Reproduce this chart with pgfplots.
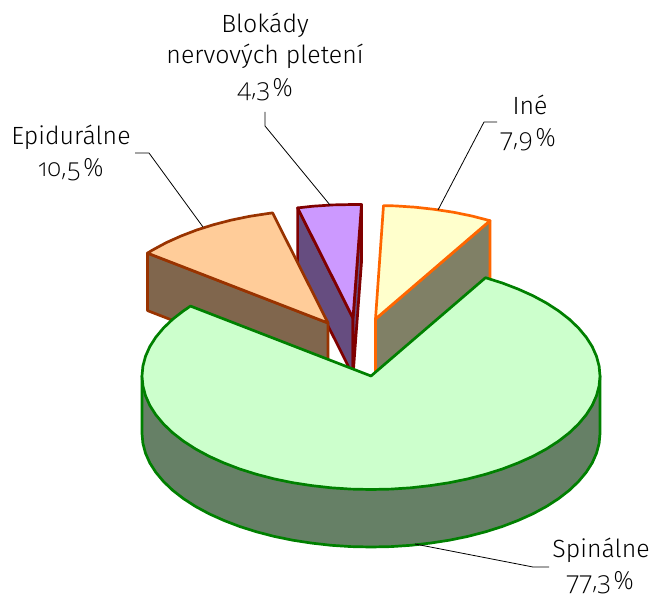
\documentclass[border=0pt]{standalone}
\usepackage{fontspec}
\setmainfont{Fira Sans Light}
\newfontfamily\numf[Numbers=OldStyle]{Open Sans Light}
\usepackage{pgfplots}
\pgfplotsset{compat=1.18}

\definecolor{spinTop}{HTML}{CCFFCC}
\definecolor{spinSide}{HTML}{668066}
\definecolor{spinLine}{HTML}{008000}
\definecolor{epiTop}{HTML}{FFCC99}
\definecolor{epiSide}{HTML}{80664D}
\definecolor{epiLine}{HTML}{993300}
\definecolor{blokTop}{HTML}{CC99FF}
\definecolor{blokSide}{HTML}{664D80}
\definecolor{blokLine}{HTML}{800000}
\definecolor{ineTop}{HTML}{FFFFCC}
\definecolor{ineSide}{HTML}{808066}
\definecolor{ineLine}{HTML}{FF6600}

\newcommand{\lab}[3]{\node[anchor=base,inner sep=0pt,font=\fontsize{25}{30}\selectfont] at (axis cs:#1,#2) {#3};}
\newcommand{\num}[3]{\node[anchor=base,inner sep=0pt,font=\fontsize{25}{30}\selectfont\numf] at (axis cs:#1,#2) {#3\hspace{0.12em}\%};}

\begin{document}
\begin{tikzpicture}
\begin{axis}[
  scale only axis,
  width=653bp,
  height=596bp,
  xmin=0, xmax=653,
  ymin=0, ymax=596,
  y dir=reverse,
  ticks=none,
  axis line style={draw=none},
  clip=false,
  every axis plot/.append style={line width=2.7bp, line join=round}
]
% Blokady: side faces, then top
\addplot[draw=blokLine, fill=blokSide] coordinates {(297.6,207.9) (297.6,265.4) (353,375.5) (353,318)} -- cycle;
\addplot[draw=blokLine, fill=blokSide] coordinates {(361.5,204.6) (361.5,262) (353,375.5) (353,318)} -- cycle;
\addplot[draw=blokLine, fill=blokTop] coordinates {(353,318) (297.6,207.9) (313.2,206.2) (333,204.9) (353,204.5) (361.5,204.6)} -- cycle;

% Epiduralne
\addplot[draw=epiLine, fill=epiSide] coordinates {(147.5,253.1) (147.5,310.6) (328,380.5) (328,323)} -- cycle;
\addplot[draw=epiLine, fill=epiTop] coordinates {(328,323) (147.5,253.1) (152.6,250.0) (166.1,242.7) (180.8,236.1) (196.7,230.0) (213.5,224.7) (231.2,220.1) (249.7,216.3) (268.7,213.4) (272.6,212.9)} -- cycle;

% Ine
\addplot[draw=ineLine, fill=ineSide] coordinates {(375.5,319) (490,220.7) (490,278.2) (375.5,376.5)} -- cycle;
\addplot[draw=ineLine, fill=ineTop] coordinates {(375.5,319) (383.5,205.6) (395.5,205.9) (415.3,207.2) (434.8,209.4) (453.8,212.3) (472.3,216.1) (490,220.7)} -- cycle;

% Spinalne: rim, then top
\addplot[draw=spinLine, fill=spinSide] coordinates {
  (600,376) (600,433.5) (599.1,443.4) (596.5,453.2) (592.2,462.9) (586.2,472.3) (578.5,481.5)
  (569.3,490.3) (558.6,498.6) (546.4,506.5) (532.9,513.8) (518.2,520.4) (502.3,526.5)
  (485.5,531.8) (467.8,536.4) (449.3,540.2) (430.3,543.1) (410.8,545.3) (391.0,546.6)
  (371,547.0) (351.0,546.6) (331.2,545.3) (311.7,543.1) (292.7,540.2) (274.2,536.4)
  (256.5,531.8) (239.7,526.5) (223.8,520.4) (209.1,513.8) (195.6,506.5) (183.4,498.6)
  (172.7,490.3) (163.5,481.5) (155.8,472.3) (149.8,462.9) (145.5,453.2) (142.9,443.4)
  (142,433.5) (142,376)} -- cycle;
\addplot[draw=spinLine, fill=spinTop] coordinates {
  (371,376) (485.5,277.7) (502.3,283.0) (518.2,289.1) (532.9,295.7) (546.4,303.0) (558.6,310.9)
  (569.3,319.2) (578.5,328.0) (586.2,337.2) (592.2,346.6) (596.5,356.3) (599.1,366.1)
  (600,376) (599.1,385.9) (596.5,395.7) (592.2,405.4) (586.2,414.8) (578.5,424.0)
  (569.3,432.8) (558.6,441.1) (546.4,449.0) (532.9,456.3) (518.2,462.9) (502.3,469.0)
  (485.5,474.3) (467.8,478.9) (449.3,482.7) (430.3,485.6) (410.8,487.8) (391.0,489.1)
  (371,489.5) (351.0,489.1) (331.2,487.8) (311.7,485.6) (292.7,482.7) (274.2,478.9)
  (256.5,474.3) (239.7,469.0) (223.8,462.9) (209.1,456.3) (195.6,449.0) (183.4,441.1)
  (172.7,432.8) (163.5,424.0) (155.8,414.8) (149.8,405.4) (145.5,395.7) (142.9,385.9)
  (142,376) (142.9,366.1) (145.5,356.3) (149.8,346.6) (155.8,337.2) (163.5,328.0)
  (172.7,319.2) (183.4,310.9) (190.5,306.1)} -- cycle;

% leader lines
\addplot[black, line width=0.8bp] coordinates {(265,112) (265,126) (330,205)};
\addplot[black, line width=0.8bp] coordinates {(135,153) (149,153) (203,227)};
\addplot[black, line width=0.8bp] coordinates {(497,122) (484,122) (438,210)};
\addplot[black, line width=0.8bp] coordinates {(549,567) (533,567) (415,544)};

% labels
\lab{265}{33}{Blokády}
\lab{265}{64}{nervových pletení}
\num{265}{96}{4,3}
\lab{71}{144}{Epidurálne}
\num{71}{176}{10,5}
\lab{530}{114}{Iné}
\num{528}{146}{7,9}
\lab{601}{557}{Spinálne}
\num{600}{589}{77,3}
\end{axis}
\end{tikzpicture}
\end{document}
